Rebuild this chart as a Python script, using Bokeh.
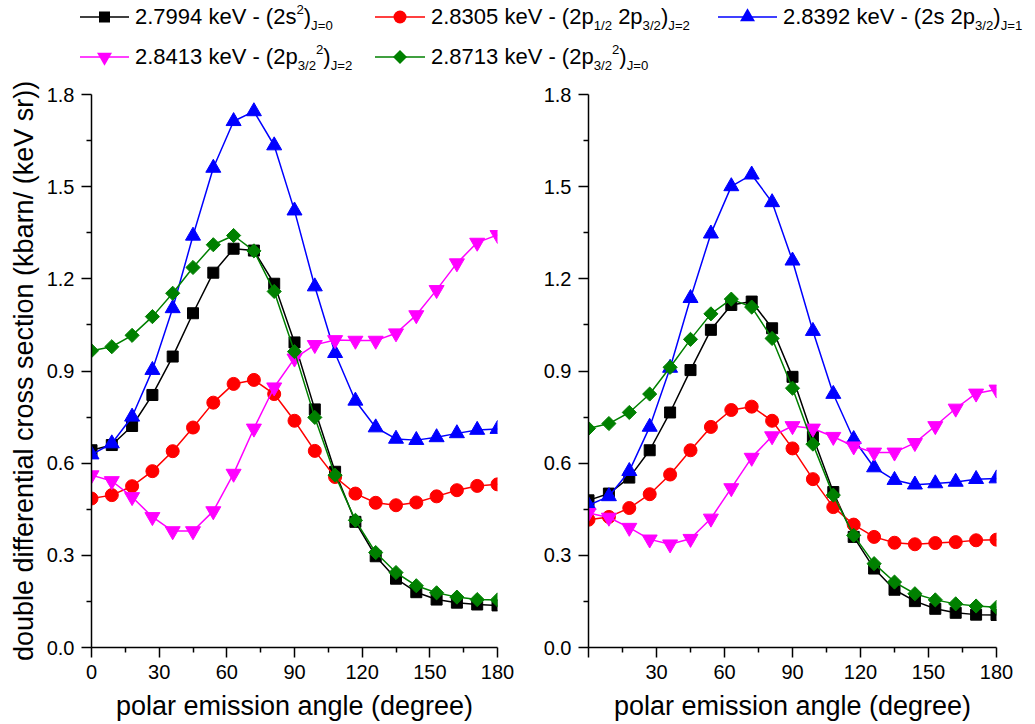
from bokeh.plotting import figure
from bokeh.models import Range1d, FixedTicker, PrintfTickFormatter, Div
from bokeh.layouts import column, row
from bokeh.embed import file_html
from bokeh.resources import INLINE
import math

# ---------------- data ----------------
angles = [0, 9, 18, 27, 36, 45, 54, 63, 72, 81, 90, 99, 108, 117, 126, 135, 144, 153, 162, 171, 180]

# left panel
black_L = [0.642, 0.659, 0.721, 0.822, 0.947, 1.088, 1.220, 1.298, 1.292, 1.184, 0.993,
           0.775, 0.572, 0.409, 0.297, 0.224, 0.180, 0.156, 0.146, 0.140, 0.137]
red_L = [0.485, 0.496, 0.525, 0.574, 0.639, 0.716, 0.797, 0.858, 0.871, 0.825, 0.738,
         0.640, 0.555, 0.501, 0.471, 0.463, 0.472, 0.492, 0.512, 0.526, 0.531]
blue_L = [0.628, 0.664, 0.751, 0.903, 1.104, 1.340, 1.561, 1.713, 1.745, 1.634, 1.422,
          1.175, 0.958, 0.803, 0.716, 0.679, 0.675, 0.684, 0.697, 0.708, 0.711]
magenta_L = [0.561, 0.542, 0.490, 0.425, 0.379, 0.379, 0.444, 0.566, 0.713, 0.847, 0.941,
             0.985, 1.001, 0.999, 0.999, 1.023, 1.082, 1.164, 1.251, 1.318, 1.343]
green_L = [0.966, 0.979, 1.016, 1.077, 1.153, 1.237, 1.311, 1.341, 1.291, 1.159, 0.963,
           0.749, 0.561, 0.414, 0.309, 0.244, 0.201, 0.178, 0.164, 0.156, 0.155]

# right panel
black_R = [0.479, 0.501, 0.553, 0.642, 0.765, 0.903, 1.034, 1.115, 1.126, 1.039, 0.881,
           0.686, 0.506, 0.360, 0.257, 0.188, 0.151, 0.126, 0.113, 0.107, 0.106]
red_R = [0.416, 0.425, 0.454, 0.499, 0.563, 0.642, 0.718, 0.773, 0.784, 0.738, 0.648,
         0.548, 0.457, 0.400, 0.360, 0.341, 0.336, 0.340, 0.343, 0.349, 0.351]
blue_R = [0.463, 0.492, 0.574, 0.718, 0.910, 1.137, 1.347, 1.501, 1.539, 1.449, 1.259,
          1.030, 0.825, 0.678, 0.586, 0.545, 0.530, 0.534, 0.539, 0.548, 0.550]
magenta_R = [0.438, 0.423, 0.390, 0.352, 0.336, 0.354, 0.420, 0.519, 0.618, 0.688, 0.721,
             0.713, 0.686, 0.655, 0.635, 0.635, 0.666, 0.721, 0.778, 0.827, 0.840]
green_R = [0.713, 0.729, 0.765, 0.825, 0.912, 1.003, 1.086, 1.134, 1.108, 1.006, 0.844,
           0.662, 0.496, 0.365, 0.273, 0.213, 0.175, 0.155, 0.142, 0.135, 0.131]

legend_labels = [
    "2.7994 keV - (2s<sup>2</sup>)<sub>J=0</sub>",
    "2.8305 keV - (2p<sub>1/2</sub> 2p<sub>3/2</sub>)<sub>J=2</sub>",
    "2.8392 keV - (2s 2p<sub>3/2</sub>)<sub>J=1</sub>",
    "2.8413 keV - (2p<sub>3/2</sub><sup>2</sup>)<sub>J=2</sub>",
    "2.8713 keV - (2p<sub>3/2</sub><sup>2</sup>)<sub>J=0</sub>",
]
x_ticks = [0, 30, 60, 90, 120, 150, 180]
x_minor = [15, 45, 75, 105, 135, 165]
y_ticks = [0.0, 0.3, 0.6, 0.9, 1.2, 1.5, 1.8]
y_minor = [0.15, 0.45, 0.75, 1.05, 1.35, 1.65]
x_title = "polar emission angle (degree)"
y_title = "double differential cross section (kbarn/ (keV sr))"

colors = ["black", "red", "blue", "magenta", "green"]
FONT = "Liberation Sans"


def style_axes(p, show_ytitle, hide_x0):
    for ax in (p.xaxis[0], p.yaxis[0]):
        ax.axis_line_width = 1.5
        ax.axis_line_color = "black"
        ax.major_tick_line_width = 1.5
        ax.minor_tick_line_width = 1.5
        ax.major_tick_in = 0
        ax.major_tick_out = 10
        ax.minor_tick_in = 0
        ax.minor_tick_out = 5
        ax.major_label_text_font = FONT
        ax.major_label_text_font_size = "20px"
        ax.major_label_text_color = "black"
        ax.axis_label_text_font = FONT
        ax.axis_label_text_font_size = "27px"
        ax.axis_label_text_font_style = "normal"
        ax.axis_label_text_color = "black"
    p.xaxis[0].ticker = FixedTicker(ticks=x_ticks, minor_ticks=x_minor)
    p.yaxis[0].ticker = FixedTicker(ticks=y_ticks, minor_ticks=y_minor)
    p.yaxis[0].formatter = PrintfTickFormatter(format="%.1f")
    p.xaxis[0].major_label_standoff = 7
    p.yaxis[0].major_label_standoff = 7
    p.xaxis[0].axis_label = x_title
    p.xaxis[0].axis_label_standoff = 9
    if show_ytitle:
        p.yaxis[0].axis_label = y_title
        p.yaxis[0].axis_label_standoff = 5
    if hide_x0:
        p.xaxis[0].major_label_overrides = {0: ""}
    p.xgrid.visible = False
    p.ygrid.visible = False
    p.outline_line_color = None


def draw(p, series):
    for ys, c, kind in zip(series, colors, range(5)):
        p.line(angles, ys, line_color=c, line_width=1.5)
        if kind == 0:
            p.scatter(angles, ys, marker="square", size=11, fill_color=c, line_color=c)
        elif kind == 1:
            p.scatter(angles, ys, marker="circle", size=13, fill_color=c, line_color=c)
        elif kind == 2:
            p.scatter(angles, ys, marker="triangle", size=15, fill_color=c, line_color=c)
        elif kind == 3:
            p.scatter(angles, ys, marker="inverted_triangle", size=15, fill_color=c, line_color=c)
        else:
            p.scatter(angles, ys, marker="square", size=10, angle=math.pi / 4,
                      fill_color=c, line_color=c)


common = dict(frame_height=553, output_backend="svg",
              toolbar_location=None, min_border_top=24, min_border_bottom=76,
              background_fill_color="white", border_fill_color="white")

p1 = figure(x_range=Range1d(0, 180), y_range=Range1d(0, 1.8), frame_width=406,
            min_border_left=91, min_border_right=20, **common)
draw(p1, [black_L, red_L, blue_L, magenta_L, green_L])
style_axes(p1, True, False)

p2 = figure(x_range=Range1d(0, 180), y_range=Range1d(0, 1.8), frame_width=408,
            min_border_left=71, min_border_right=30, **common)
draw(p2, [black_R, red_R, blue_R, magenta_R, green_R])
style_axes(p2, False, True)


# ---------------- legend (HTML) ----------------
def symbol_svg(kind, color, w):
    cx = w / 2
    cy = 12
    if kind == 0:
        shapes = f'<rect x="{cx-5.5}" y="{cy-5.5}" width="11" height="11" fill="{color}"/>'
    elif kind == 1:
        shapes = f'<circle cx="{cx}" cy="{cy}" r="6.5" fill="{color}"/>'
    elif kind == 2:
        shapes = (f'<polygon points="{cx-7.5},{cy+4.3} {cx+7.5},{cy+4.3} {cx},{cy-8.7}" '
                  f'fill="{color}"/>')
    elif kind == 3:
        shapes = (f'<polygon points="{cx-7.5},{cy-4.3} {cx+7.5},{cy-4.3} {cx},{cy+8.7}" '
                  f'fill="{color}"/>')
    else:
        shapes = (f'<polygon points="{cx},{cy-7} {cx+7},{cy} {cx},{cy+7} {cx-7},{cy}" '
                  f'fill="{color}"/>')
    return (f'<svg width="{w}" height="24" style="display:block">'
            f'<line x1="0" y1="{cy}" x2="{w}" y2="{cy}" stroke="{color}" stroke-width="1.5"/>'
            f'{shapes}</svg>')


# item anchors (div-relative): (symbol left, top, symbol width)
slots = [(80, 5, 49), (375, 5, 50), (718, 5, 59), (80, 45, 49), (375, 45, 50)]
items = ""
for i, (lbl, c, (lx, ty, w)) in enumerate(zip(legend_labels, colors, slots)):
    items += (f'<div style="position:absolute;left:{lx}px;top:{ty}px;height:24px;'
              f'display:flex;align-items:center;white-space:nowrap;">'
              f'{symbol_svg(i, c, w)}'
              f'<span style="margin-left:6px;">{lbl}</span></div>')

html = ('<style>sub{font-size:0.6em;vertical-align:-0.45em;line-height:0;}'
        'sup{font-size:0.6em;vertical-align:0.75em;line-height:0;}</style>'
        f'<div style="position:relative;width:1035px;height:70px;'
        f"font-family:'Liberation Sans',Arial,sans-serif;font-size:22px;color:black;line-height:1;\">"
        f'{items}</div>')

legend = Div(text=html, width=1035, height=70, margin=(0, 0, 0, 0))

layout = column(legend, row(p1, p2, spacing=0), spacing=0)

open("out.html", "w").write(file_html(layout, INLINE))
